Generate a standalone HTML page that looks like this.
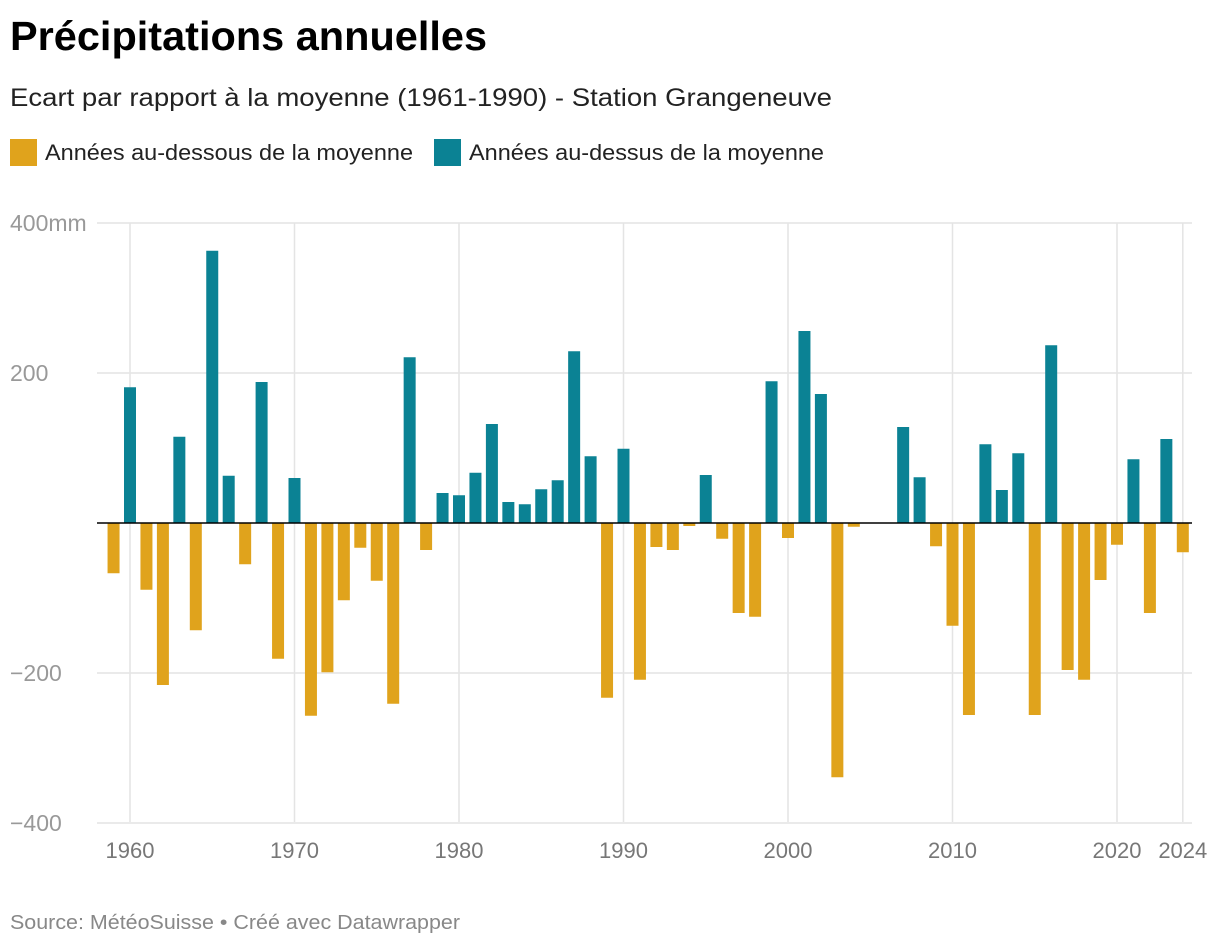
<!DOCTYPE html>
<html><head><meta charset="utf-8"><style>
body{margin:0;background:#fff;font-family:"Liberation Sans",sans-serif;}
svg text{font-family:"Liberation Sans",sans-serif;}
</style></head><body>
<svg id="chart" width="1220" height="946" xmlns="http://www.w3.org/2000/svg">
<text x="10" y="50" font-size="41" font-weight="bold" fill="#000" textLength="477" lengthAdjust="spacingAndGlyphs">Précipitations annuelles</text>
<text x="10" y="106" font-size="25" fill="#222" textLength="822" lengthAdjust="spacingAndGlyphs">Ecart par rapport à la moyenne (1961-1990) - Station Grangeneuve</text>
<g>
<rect x="10" y="139" width="27" height="27" fill="#e0a31c"/>
<text x="45" y="160" font-size="22" fill="#222" textLength="368" lengthAdjust="spacingAndGlyphs">Années au-dessous de la moyenne</text>
<rect x="434" y="139" width="27" height="27" fill="#0b8294"/>
<text x="469" y="160" font-size="22" fill="#222" textLength="355" lengthAdjust="spacingAndGlyphs">Années au-dessus de la moyenne</text>
</g>
<g id="grid"></g>
<g id="bars"></g>
<g id="axes"></g>
<text x="10" y="929" font-size="20" fill="#888" textLength="450" lengthAdjust="spacingAndGlyphs">Source: MétéoSuisse • Créé avec Datawrapper</text>
</svg>
<script>
const years = [1959,1960,1961,1962,1963,1964,1965,1966,1967,1968,1969,1970,1971,1972,1973,1974,1975,1976,1977,1978,1979,1980,1981,1982,1983,1984,1985,1986,1987,1988,1989,1990,1991,1992,1993,1994,1995,1996,1997,1998,1999,2000,2001,2002,2003,2004,2005,2006,2007,2008,2009,2010,2011,2012,2013,2014,2015,2016,2017,2018,2019,2020,2021,2022,2023,2024];
const values = [-67,181,-89,-216,115,-143,363,63,-55,188,-181,60,-257,-199,-103,-33,-77,-241,221,-36,40,37,67,132,28,25,45,57,229,89,-233,99,-209,-32,-36,-4,64,-21,-120,-125,189,-20,256,172,-339,-5,0,0,128,61,-31,-137,-256,105,44,93,-256,237,-196,-209,-76,-29,85,-120,112,-39];
const yTicks = [400,200,-200,-400];
const yTickLabels = ["400mm","200","−200","−400"];
const xTicks = [1960,1970,1980,1990,2000,2010,2020,2024];
const NS="http://www.w3.org/2000/svg";
const x = yr => 130 + (yr-1960)*16.45;
const y = v => 523 - v*0.75;
const grid=document.getElementById('grid'), bars=document.getElementById('bars'), axes=document.getElementById('axes');
function mk(tag,attrs,parent){const e=document.createElementNS(NS,tag);for(const k in attrs)e.setAttribute(k,attrs[k]);parent.appendChild(e);return e;}
yTicks.forEach((t,i)=>{
  const l=mk('line',{x1:97,x2:1192,y1:y(t),y2:y(t),stroke:'#e4e4e4','stroke-width':1.5},grid);
  
  
  const tx=mk('text',{x:10,y:y(t)+8,'font-size':23,fill:'#999'},axes);
  tx.textContent=yTickLabels[i];
  
  
});
xTicks.forEach(t=>{
  const l=mk('line',{x1:x(t),x2:x(t),y1:223,y2:822,stroke:'#e4e4e4','stroke-width':1.5},grid);
  
  
  const tx=mk('text',{x:x(t),y:858,'font-size':22,fill:'#777','text-anchor':'middle'},axes);
  tx.textContent=t;
  
  
});
years.forEach((yr,i)=>{
  const v=values[i]; if(v===0) return;
  const r=mk('rect',{x:x(yr)-6,width:12,y:Math.min(y(v),y(0)),height:Math.abs(y(v)-y(0)),fill:v<0?'#e0a31c':'#0b8294'},bars);
  
  
});
const z=mk('line',{x1:97,x2:1192,y1:y(0),y2:y(0),stroke:'#000','stroke-width':1.5},axes);


</script>
</body></html>
